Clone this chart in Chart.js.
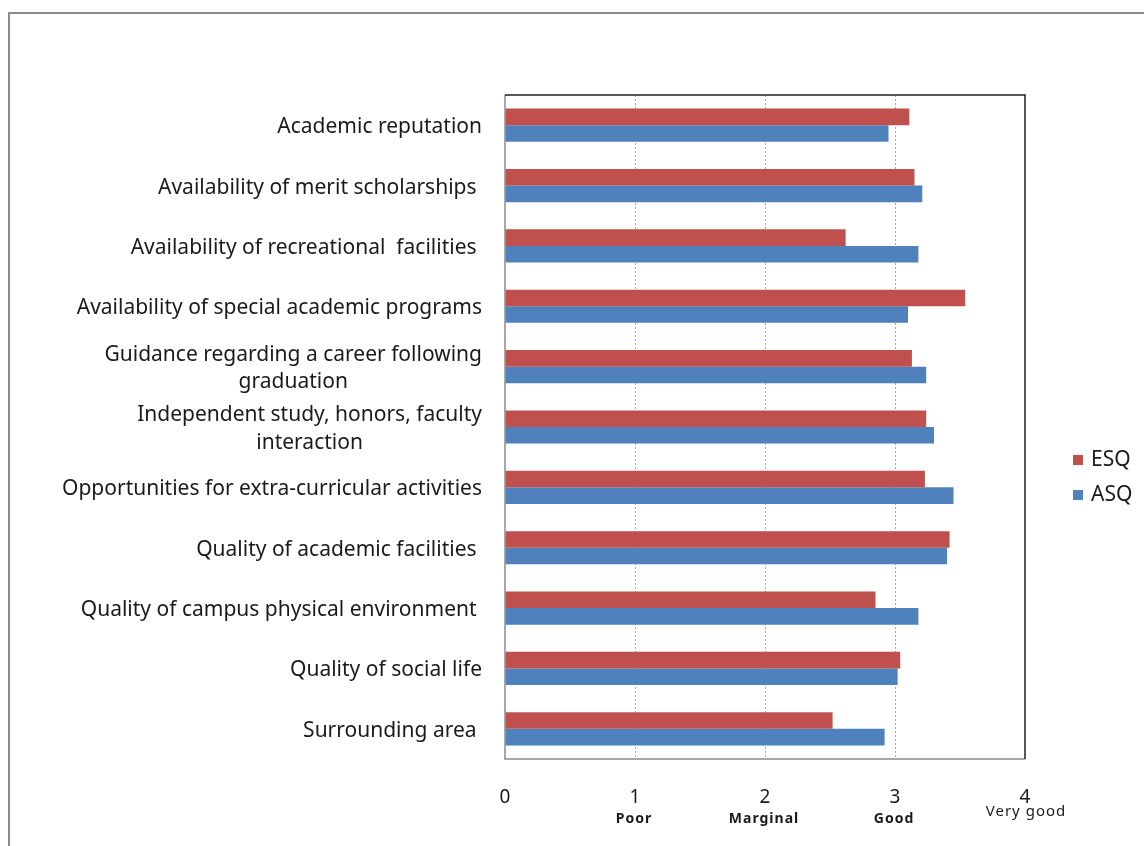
<!DOCTYPE html>
<html>
<head>
<meta charset="utf-8">
<script src="https://cdn.jsdelivr.net/npm/chart.js@4.4.0/dist/chart.umd.min.js"></script>
<style>
  html, body { margin: 0; padding: 0; background: #fff; }
</style>
</head>
<body>
<canvas id="ratingsChart" width="1144" height="846"></canvas>
<script>
// factors rated by the two survey groups, top to bottom
const factors = [
  ['Academic reputation'],
  ['Availability of merit scholarships '],
  ['Availability of recreational  facilities '],
  ['Availability of special academic programs'],
  ['Guidance regarding a career following', 'graduation'],
  ['Independent study, honors, faculty', 'interaction'],
  ['Opportunities for extra-curricular activities'],
  ['Quality of academic facilities '],
  ['Quality of campus physical environment '],
  ['Quality of social life'],
  ['Surrounding area ']
];
const esqScores = [3.11, 3.15, 2.62, 3.54, 3.13, 3.24, 3.23, 3.42, 2.85, 3.04, 2.52];
const asqScores = [2.95, 3.21, 3.18, 3.10, 3.24, 3.30, 3.45, 3.40, 3.18, 3.02, 2.92];
const scaleTicks = [0, 1, 2, 3, 4];
const ratingWords = ['', 'Poor', 'Marginal', 'Good', 'Very good'];

const FONT = '"Noto Sans", "Open Sans", sans-serif';

const extras = {
  id: 'extras',
  afterDraw(chart) {
    const { ctx, chartArea: a, scales: { x, y } } = chart;
    ctx.save();

    // outer chart border
    ctx.strokeStyle = '#8c8c8c';
    ctx.lineWidth = 2;
    ctx.beginPath();
    ctx.moveTo(9, 846);
    ctx.lineTo(9, 13);
    ctx.lineTo(1144, 13);
    ctx.stroke();

    // plot frame: light left/bottom, dark top/right
    ctx.lineWidth = 1.5;
    ctx.strokeStyle = '#8a8a8a';
    ctx.beginPath();
    ctx.moveTo(a.left, a.top);
    ctx.lineTo(a.left, a.bottom);
    ctx.lineTo(a.right, a.bottom);
    ctx.stroke();
    ctx.strokeStyle = '#202020';
    ctx.beginPath();
    ctx.moveTo(a.left, a.top);
    ctx.lineTo(a.right, a.top);
    ctx.lineTo(a.right, a.bottom);
    ctx.stroke();

    // category labels: one-liners flush right, wrapped ones centred on themselves
    ctx.fillStyle = '#1a1a1a';
    ctx.font = '21px ' + FONT;
    ctx.textBaseline = 'alphabetic';
    const rightEdge = a.left - 23;
    const lineH = 27.5;
    factors.forEach((lines, i) => {
      const base = y.getPixelForValue(i) + 8;
      if (lines.length === 1) {
        ctx.textAlign = 'right';
        ctx.fillText(lines[0], rightEdge, base);
      } else {
        const w = Math.max(...lines.map(t => ctx.measureText(t).width));
        const cx = rightEdge - w / 2;
        ctx.textAlign = 'center';
        lines.forEach((t, k) => {
          ctx.fillText(t, cx, base + (k - (lines.length - 1) / 2) * lineH);
        });
      }
    });

    // rating words under the numeric ticks
    ctx.textAlign = 'center';
    ctx.letterSpacing = '1px';
    ratingWords.forEach((w, i) => {
      if (!w) return;
      const last = i === ratingWords.length - 1;
      ctx.font = (last ? '15px ' : 'bold 14px ') + FONT;
      ctx.fillText(w, x.getPixelForValue(scaleTicks[i]) + (last ? 1 : -1), last ? 816 : 823);
    });
    ctx.letterSpacing = '0px';

    // legend
    ctx.font = '21px ' + FONT;
    ctx.textAlign = 'left';
    ctx.textBaseline = 'middle';
    chart.data.datasets.forEach((ds, i) => {
      const ly = 460 + i * 35;
      ctx.fillStyle = ds.backgroundColor;
      ctx.fillRect(1073, ly - 5, 10, 10);
      ctx.fillStyle = '#1a1a1a';
      ctx.fillText(ds.label, 1091, ly);
    });

    ctx.restore();
  }
};

new Chart(document.getElementById('ratingsChart'), {
  type: 'bar',
  data: {
    labels: factors,
    datasets: [
      { label: 'ESQ', data: esqScores, backgroundColor: '#C0504D' },
      { label: 'ASQ', data: asqScores, backgroundColor: '#4F81BD' }
    ]
  },
  options: {
    indexAxis: 'y',
    responsive: false,
    animation: false,
    devicePixelRatio: 1,
    layout: { padding: { left: 505, right: 119, top: 95, bottom: 0 } },
    categoryPercentage: 0.55,
    barPercentage: 1,
    plugins: { legend: { display: false }, tooltip: { enabled: false } },
    scales: {
      x: {
        min: 0,
        max: 4,
        afterBuildTicks: s => { s.ticks = scaleTicks.map(v => ({ value: v })); },
        afterFit: s => { s.height = 87; },
        ticks: { color: '#1a1a1a', font: { size: 19, family: FONT }, padding: 27 },
        grid: {
          drawTicks: false,
          color: c => (c.tick && (c.tick.value === 0 || c.tick.value === 4)) ? 'rgba(0,0,0,0)' : '#a8a8a8'
        },
        border: { display: false, dash: [2, 2] }
      },
      y: { display: false, grid: { display: false } }
    }
  },
  plugins: [extras]
});
</script>
</body>
</html>
